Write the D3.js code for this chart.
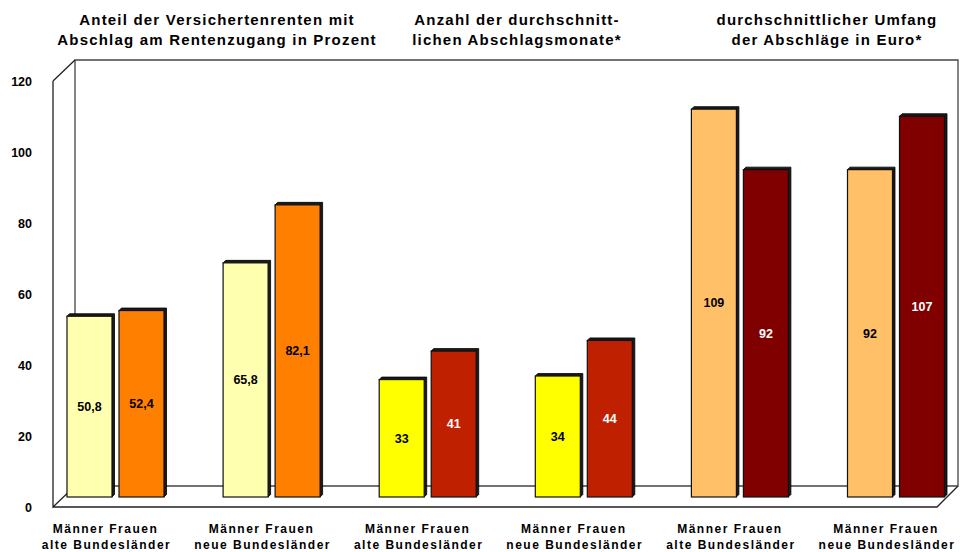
<!DOCTYPE html>
<html><head><meta charset="utf-8">
<script src="https://cdn.jsdelivr.net/npm/d3@7"></script>
<style>body{margin:0;background:#fff}svg{display:block;font-family:"Liberation Sans",Arial,sans-serif}</style>
</head><body>
<svg id="c" width="960" height="552"></svg>
<script>
const groups = ["g1","g2","g3","g4","g5","g6"];
const groupLine1 = ["Männer Frauen","Männer Frauen","Männer Frauen","Männer Frauen","Männer Frauen","Männer Frauen"];
const groupLine2 = ["alte Bundesländer","neue Bundesländer","alte Bundesländer","neue Bundesländer","alte Bundesländer","neue Bundesländer"];
const maennerValues = [50.8, 65.8, 33, 34, 109, 92];
const frauenValues  = [52.4, 82.1, 41, 44, 92, 107];
const valueLabelsM = ["50,8","65,8","33","34","109","92"];
const valueLabelsF = ["52,4","82,1","41","44","92","107"];
const maennerColors = ["#FFFFB0","#FFFFB0","#FFFF00","#FFFF00","#FFC068","#FFC068"];
const frauenColors  = ["#FF8000","#FF8000","#BF2000","#BF2000","#800000","#800000"];
const maennerText = ["#000","#000","#000","#000","#000","#000"];
const frauenText  = ["#000","#000","#fff","#fff","#fff","#fff"];
const yTicks = [0,20,40,60,80,100,120];
const titles = [
  ["Anteil der Versichertenrenten mit","Abschlag am Rentenzugang in Prozent"],
  ["Anzahl der durchschnitt-","lichen Abschlagsmonate*"],
  ["durchschnittlicher Umfang","der Abschläge in Euro*"]
];
const titleX = [217, 517, 827];

const svg = d3.select("#c");
const yFront = d3.scaleLinear().domain([0,120]).range([507,81]);
const yBack = d3.scaleLinear().domain([0,120]).range([486,60]);
const yBar = d3.scaleLinear().domain([0,120]).range([497,70]);
const x = d3.scalePoint().domain(groups).range([115.5, 896]);
const fx0 = 53, fx1 = 937, bx0 = 75, bx1 = 958;

// walls
const walls = svg.append("g").attr("fill","none").attr("stroke","#222").attr("stroke-width",1.3);
walls.append("path").attr("d",`M${bx0},${yBack(0)}V${yBack(120)}H${bx1}V${yBack(0)}Z`).attr("stroke","#444");
walls.append("path").attr("d",`M${fx0},${yFront(120)}L${bx0},${yBack(120)}M${fx0},${yFront(120)}V${yFront(0)}L${bx0},${yBack(0)}M${fx0},${yFront(0)}H${fx1}L${bx1},${yBack(0)}`);

// axis
const ax = svg.append("g").attr("transform",`translate(${fx0},0)`)
  .call(d3.axisLeft(yFront).tickValues(yTicks).tickSize(0).tickPadding(21).tickFormat(d3.format("d")));
ax.select(".domain").remove();
ax.selectAll("text").attr("font-family","Liberation Sans, Arial, sans-serif").attr("font-size",12.5).attr("font-weight","bold").attr("fill","#000");

// bars
const bw = 45, gap = 3.5, dep = 2.5;
function bar(g, xl, v, fill, label, tcol){
  const y0 = yBar(0), y1 = yBar(v);
  g.append("path").attr("d",`M${xl},${y1}L${xl+dep},${y1-dep}H${xl+bw+dep}V${y0-dep}L${xl+bw},${y0}Z`).attr("fill","#1a1a1a").attr("stroke","#000").attr("stroke-width",0.8);
  g.append("rect").attr("x",xl).attr("y",y1).attr("width",bw).attr("height",y0-y1).attr("fill",fill).attr("stroke","#111").attr("stroke-width",1.2);
  g.append("text").attr("x",xl+bw/2).attr("y",(y0+y1)/2).attr("dy","0.35em").attr("text-anchor","middle")
    .attr("font-size",12.5).attr("font-weight","bold").attr("fill",tcol).text(label);
}
const bars = svg.append("g");
groups.forEach((gname,i)=>{
  const c = x(gname);
  bar(bars, c-gap-bw, maennerValues[i], maennerColors[i], valueLabelsM[i], maennerText[i]);
  bar(bars, c+gap, frauenValues[i], frauenColors[i], valueLabelsF[i], frauenText[i]);
});

// category labels
const cl = svg.append("g").attr("font-size",12).attr("font-weight","bold").attr("text-anchor","middle").attr("letter-spacing","1.5px");
groups.forEach((gname,i)=>{
  cl.append("text").attr("x",x(gname)-10).attr("y",533).text(groupLine1[i]);
  cl.append("text").attr("x",x(gname)-9).attr("y",549).text(groupLine2[i]);
});

// titles
const tg = svg.append("g").attr("font-size",15).attr("font-weight","bold").attr("text-anchor","middle").attr("letter-spacing","1.2px");
titles.forEach((t,i)=>{
  tg.append("text").attr("x",titleX[i]).attr("y",25).text(t[0]);
  tg.append("text").attr("x",titleX[i]).attr("y",45).text(t[1]);
});
</script>
</body></html>
